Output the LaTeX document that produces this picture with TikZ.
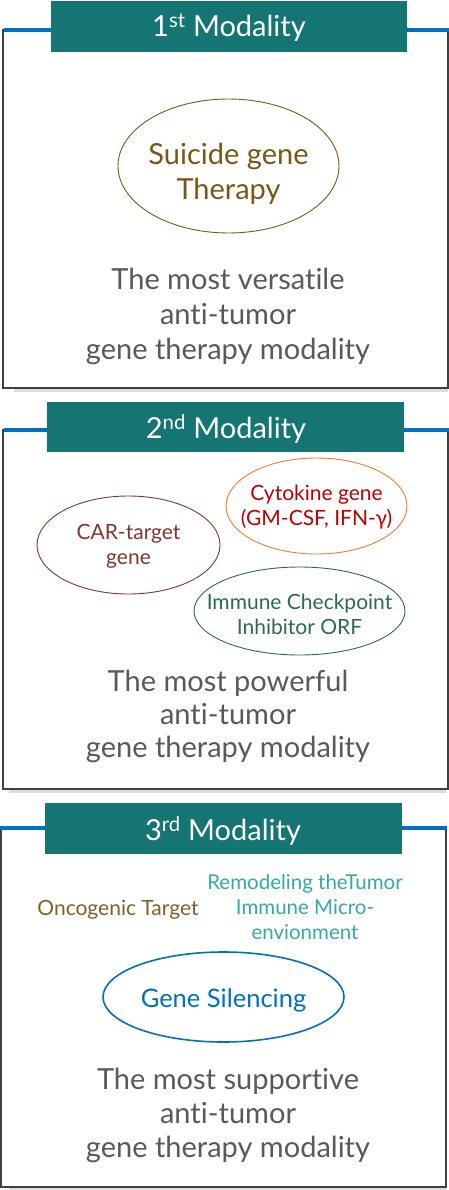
\documentclass[tikz,border=0pt]{standalone}
\usepackage{fontspec}
\setmainfont{Lato}[Ligatures=NoCommon]
\usetikzlibrary{shapes.geometric}
\definecolor{teal1}{RGB}{20,117,115}
\definecolor{blue1}{RGB}{0,112,192}
\definecolor{frame1}{RGB}{64,64,64}
\definecolor{shadow1}{RGB}{220,220,220}
\definecolor{body1}{RGB}{89,89,89}
\definecolor{brown1}{RGB}{120,88,20}
\definecolor{carc}{RGB}{125,55,45}
\definecolor{orange1}{RGB}{237,125,49}
\definecolor{red1}{RGB}{192,0,0}
\definecolor{green1}{RGB}{45,105,82}
\definecolor{onco}{RGB}{130,95,40}
\definecolor{remod}{RGB}{50,170,165}
\tikzset{
  panel/.style={draw=frame1, line width=1.4pt},
  shadowline/.style={draw=shadow1, line width=2.2pt},
  tick/.style={draw=blue1, line width=3.5pt},
  banner/.style={fill=teal1, inner sep=0pt, anchor=north west},
  title/.style={text=white, font={\fontsize{29}{34}\selectfont}},
  bodytext/.style={align=center, text=body1, font={\fontsize{29}{35}\selectfont}},
  oval/.style={ellipse, draw, line width=0.9pt, inner sep=0pt, outer sep=0pt},
  ovaltext/.style={align=center, inner sep=0pt},
}
\begin{document}
\begin{tikzpicture}[x=1pt,y=-1pt]
\useasboundingbox (0,0) rectangle (449,1190);
% ---------- panel 1 ----------
\draw[shadowline] (14,390.5) -- (448,390.5);
\draw[panel] (3,30) rectangle (448,388);
\draw[tick] (4,30) -- (57,30);
\draw[tick] (396,30) -- (449,30);
\node[banner, minimum width=356pt, minimum height=51pt] (b1) at (51,1) {};
\node[title] (t1) at (229,28) {1\textsuperscript{st} Modality};
\node[oval, draw=brown1, minimum width=221pt, minimum height=134pt] (e1) at (228.5,166) {};
\node[ovaltext, text=brown1, font={\fontsize{29}{35}\selectfont}] (l1) at ([yshift=-8pt]e1.center) {Suicide gene\\Therapy};
\node[bodytext] (d1) at (228,316) {The most versatile\\anti-tumor\\gene therapy modality};
% ---------- panel 2 ----------
\draw[shadowline] (9,791.5) -- (446,791.5);
\draw[panel] (3,430) rectangle (448,789);
\draw[tick] (4,430) -- (57,430);
\draw[tick] (396,430) -- (449,430);
\node[banner, minimum width=357pt, minimum height=50pt] (b2) at (47,402) {};
\node[title] (t2) at (226,429) {2\textsuperscript{nd} Modality};
\node[oval, draw=carc, minimum width=183pt, minimum height=98pt] (e2a) at (128.5,545) {};
\node[ovaltext, text=carc, font={\fontsize{21}{25}\selectfont}] (l2a) at ([yshift=-1pt]e2a.center) {CAR-target\\gene};
\node[oval, draw=orange1, minimum width=181pt, minimum height=96pt] (e2b) at (316.5,506) {};
\node[ovaltext, text=red1, font={\fontsize{21}{25}\selectfont}] (l2b) at ([yshift=-1pt]e2b.center) {Cytokine gene\\(GM-CSF, IFN-γ)};
\node[oval, draw=green1, minimum width=211pt, minimum height=88pt] (e2c) at (299.5,611) {};
\node[ovaltext, text=green1, font={\fontsize{21}{25}\selectfont}] (l2c) at ([yshift=-3pt]e2c.center) {Immune Checkpoint\\Inhibitor ORF};
\node[bodytext, font={\fontsize{29}{33}\selectfont}] (d2) at (228,716) {The most powerful\\anti-tumor\\gene therapy modality};
% ---------- panel 3 ----------
\draw[shadowline] (9,1189) -- (446,1189);
\draw[panel] (1,828) rectangle (446,1187);
\draw[tick] (0,828) -- (45,828);
\draw[tick] (402,828) -- (447,828);
\node[banner, minimum width=357pt, minimum height=51pt] (b3) at (45,803) {};
\node[title] (t3) at (223,831) {3\textsuperscript{rd} Modality};
\node[text=onco, font={\fontsize{21}{24}\selectfont}] (o3) at (118,910) {Oncogenic Target};
\node[align=center, text=remod, font={\fontsize{20.5}{25}\selectfont}] (r3) at (305,907) {Remodeling theTumor\\Immune Micro-\\envionment};
\node[oval, draw=blue1, line width=1.6pt, minimum width=241pt, minimum height=90pt] (e3) at (223.5,997) {};
\node[ovaltext, text=blue1, font={\fontsize{25.5}{28}\selectfont}] (l3) at ([yshift=-3pt]e3.center) {Gene Silencing};
\node[bodytext, font={\fontsize{29}{34}\selectfont}] (d3) at (228,1115) {The most supportive\\anti-tumor\\gene therapy modality};
\end{tikzpicture}
\end{document}
